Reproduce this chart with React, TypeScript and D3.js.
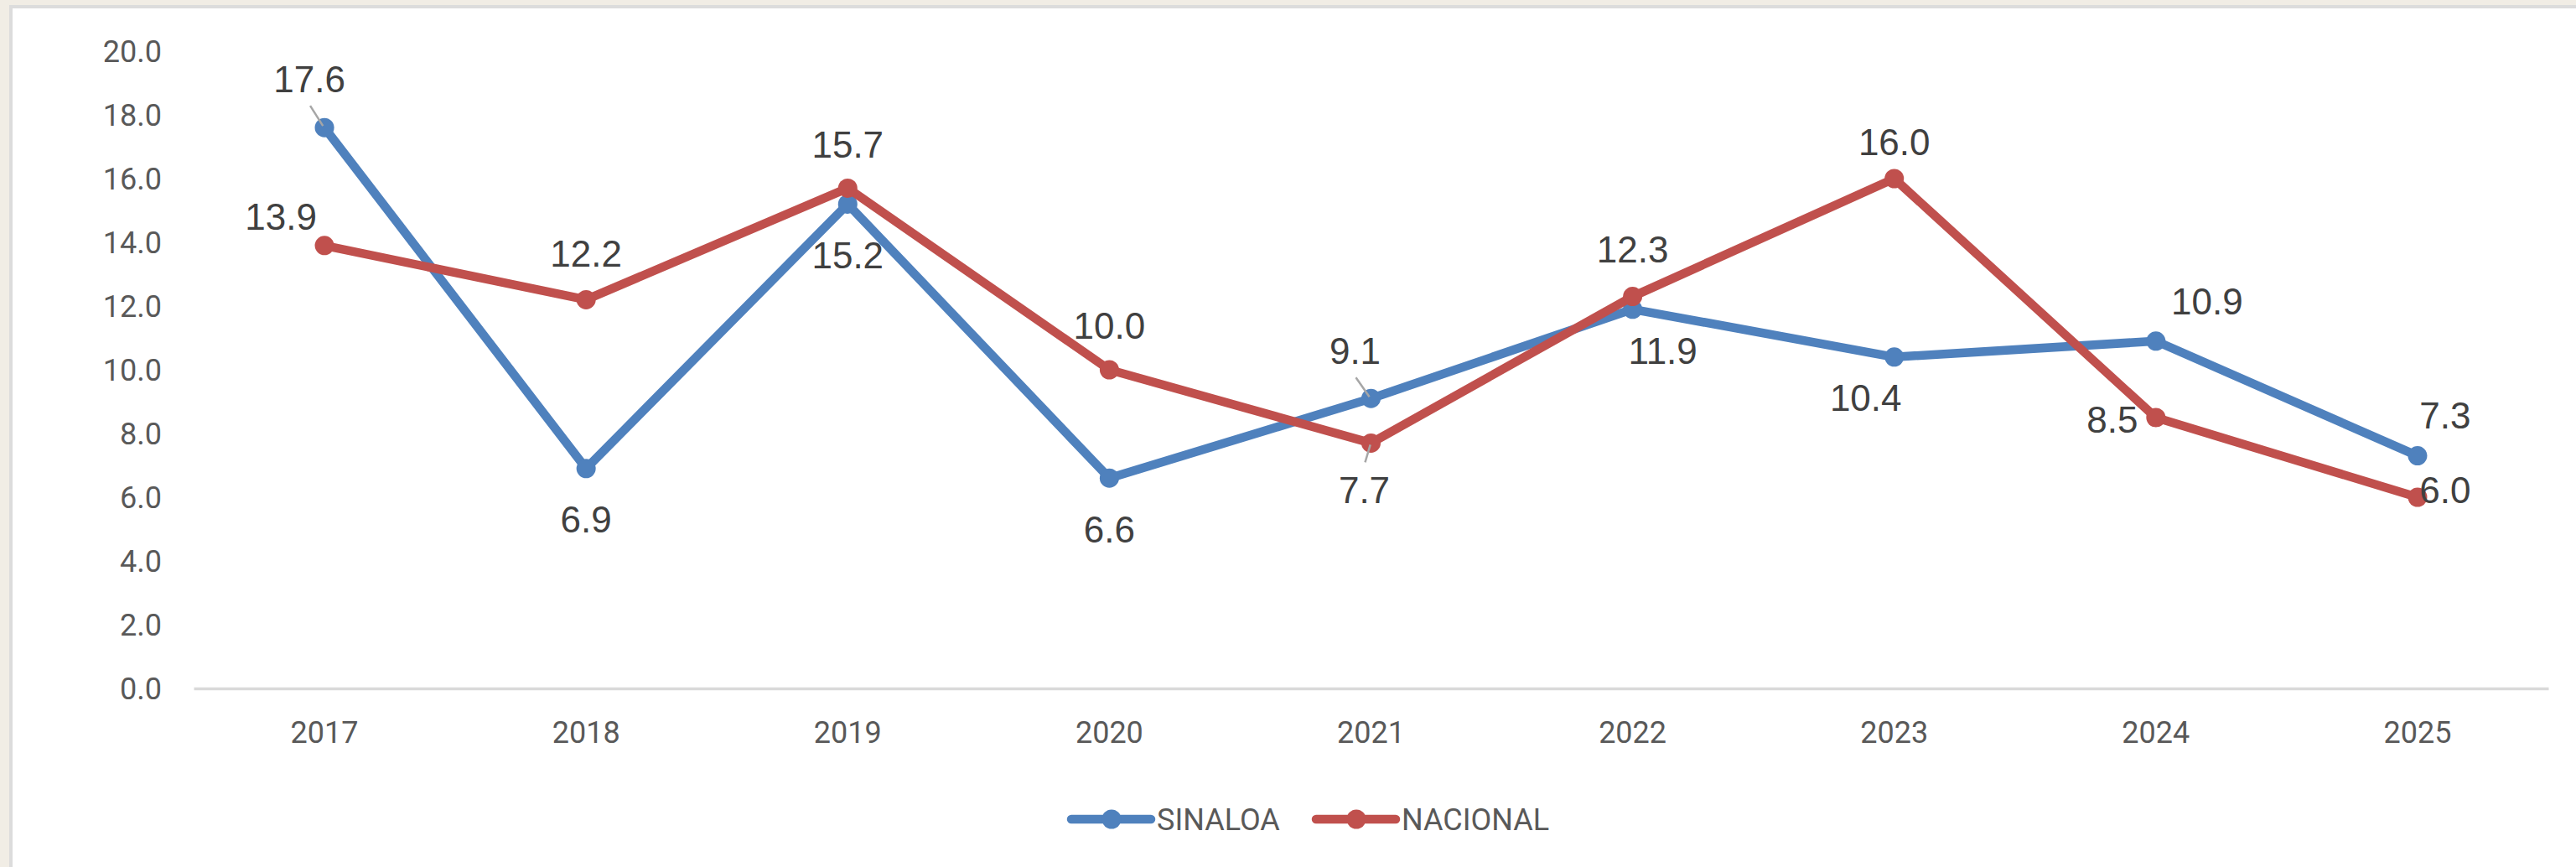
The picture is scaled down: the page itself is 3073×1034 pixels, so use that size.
import { useEffect, useRef } from 'react';
import * as d3 from 'd3';

const YEARS = ['2017', '2018', '2019', '2020', '2021', '2022', '2023', '2024', '2025'];
const SINALOA = [17.6, 6.9, 15.2, 6.6, 9.1, 11.9, 10.4, 10.9, 7.3];
const NACIONAL = [13.9, 12.2, 15.7, 10.0, 7.7, 12.3, 16.0, 8.5, 6.0];
const Y_TICKS = [0, 2, 4, 6, 8, 10, 12, 14, 16, 18, 20];

// label offsets from the marker (dx, dy), and whether a leader line is drawn
const SIN_LABEL_POS: [number, number, boolean][] = [
  [-18, -58, true], [0, 60, false], [0, 61, false], [0, 61, false], [-19, -57, true],
  [36, 49, false], [-34, 48, false], [61, -48, false], [33, -48, false],
];
const NAC_LABEL_POS: [number, number, boolean][] = [
  [-52, -35, false], [0, -55, false], [0, -52, false], [0, -53, false], [-8, 56, true],
  [0, -56, false], [0, -44, false], [-52, 2, false], [33, -9, false],
];

const BLUE = '#4f81bd';
const RED = '#c0504d';
const W = 3073;
const H = 1034;
const AXIS_FONT = 'Roboto, "Open Sans", sans-serif';
const LABEL_FONT = '"Liberation Sans", Arial, sans-serif';

export default function App() {
  const svgRef = useRef<SVGSVGElement | null>(null);

  useEffect(() => {
    document.body.style.margin = '0';
    if (!svgRef.current) return;
    const svg = d3.select(svgRef.current);
    svg.selectAll('*').remove();
    svg.attr('width', W).attr('height', H).attr('viewBox', `0 0 ${W} ${H}`);

    // page background and chart frame
    svg.append('rect').attr('width', W).attr('height', H).attr('fill', '#f1ede5');
    svg.append('rect').attr('x', 11).attr('y', 6).attr('width', W - 11).attr('height', H - 6).attr('fill', '#dcdcdc');
    svg.append('rect').attr('x', 15).attr('y', 10).attr('width', W - 15).attr('height', H - 10).attr('fill', '#ffffff');

    const x = d3.scaleBand().domain(YEARS).range([231, 3040]);
    const y = d3.scaleLinear().domain([0, 20]).range([821, 61]);
    const cx = (i: number) => (x(YEARS[i]) ?? 0) + x.bandwidth() / 2;

    // y axis labels
    const yAxis = d3.axisLeft(y).tickValues(Y_TICKS).tickSize(0).tickPadding(0).tickFormat(d => (+d).toFixed(1));
    svg.append('g')
      .attr('transform', 'translate(193,0)')
      .call(yAxis)
      .call(g => g.select('.domain').remove())
      .call(g => g.selectAll('.tick text')
        .attr('fill', '#595959').attr('font-size', 36).attr('font-family', AXIS_FONT)
        .attr('dy', '0.35em'));

    // x axis
    const xAxis = d3.axisBottom(x).tickSize(0).tickPadding(0);
    svg.append('g')
      .attr('transform', 'translate(0,821)')
      .call(xAxis)
      .call(g => g.select('.domain').attr('stroke', '#d9d9d9').attr('stroke-width', 3.5))
      .call(g => g.selectAll('.tick text')
        .attr('fill', '#595959').attr('font-size', 36).attr('font-family', AXIS_FONT)
        .attr('y', 52).attr('dy', '0.35em'));

    const line = d3.line<number>().x((_, i) => cx(i)).y(d => y(d));

    const series = [
      { name: 'SINALOA', values: SINALOA, color: BLUE, pos: SIN_LABEL_POS },
      { name: 'NACIONAL', values: NACIONAL, color: RED, pos: NAC_LABEL_POS },
    ];

    series.forEach(s => {
      svg.append('path')
        .attr('d', line(s.values))
        .attr('fill', 'none')
        .attr('stroke', s.color)
        .attr('stroke-width', 10.5)
        .attr('stroke-linejoin', 'round');
      svg.append('g')
        .selectAll('circle')
        .data(s.values)
        .join('circle')
        .attr('cx', (_, i) => cx(i))
        .attr('cy', d => y(d))
        .attr('r', 11.5)
        .attr('fill', s.color);
    });

    // leader lines and data labels
    series.forEach(s => {
      s.values.forEach((v, i) => {
        const [dx, dy, leader] = s.pos[i];
        const lx = cx(i) + dx;
        const ly = y(v) + dy;
        if (leader) {
          const sy = ly + (dy < 0 ? 32 : -33);
          svg.append('line')
            .attr('x1', lx + 1).attr('y1', sy)
            .attr('x2', cx(i) - (cx(i) - lx) * 0.1).attr('y2', y(v) + (dy < 0 ? -2 : 2))
            .attr('stroke', '#a6a6a6').attr('stroke-width', 2.5);
        }
      });
    });
    // redraw markers where leaders touch them
    series.forEach(s => {
      s.values.forEach((v, i) => {
        const [dx, dy] = s.pos[i];
        svg.append('text')
          .attr('x', cx(i) + dx)
          .attr('y', y(v) + dy)
          .attr('dy', '0.36em')
          .attr('text-anchor', 'middle')
          .attr('font-size', 44)
          .attr('font-family', LABEL_FONT)
          .attr('fill', '#404040')
          .text(v.toFixed(1));
      });
    });

    // legend
    const legendItems = [
      { name: 'SINALOA', color: BLUE, x0: 1278 },
      { name: 'NACIONAL', color: RED, x0: 1570 },
    ];
    const lg = svg.append('g').attr('transform', 'translate(0,977)');
    legendItems.forEach(item => {
      lg.append('line')
        .attr('x1', item.x0).attr('x2', item.x0 + 95)
        .attr('y1', 0).attr('y2', 0)
        .attr('stroke', item.color).attr('stroke-width', 10.5).attr('stroke-linecap', 'round');
      lg.append('circle').attr('cx', item.x0 + 48).attr('cy', 0).attr('r', 11.5).attr('fill', item.color);
      lg.append('text')
        .attr('x', item.x0 + 102).attr('y', 0).attr('dy', '0.35em')
        .attr('font-size', 36).attr('font-family', AXIS_FONT).attr('fill', '#595959')
        .text(item.name);
    });
  }, []);

  return <svg ref={svgRef} style={{ display: 'block' }} />;
}
